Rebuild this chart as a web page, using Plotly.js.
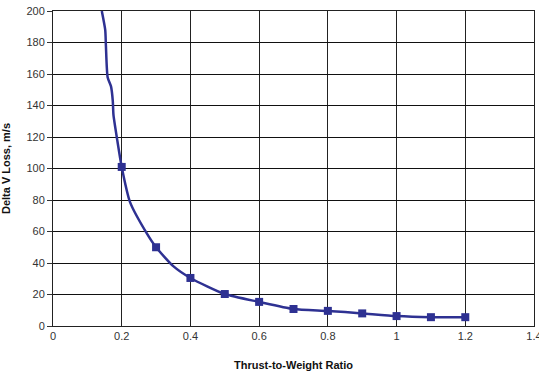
<!DOCTYPE html>
<html><head><meta charset="utf-8">
<script src="https://cdn.plot.ly/plotly-3.0.1.min.js"></script>
<style>html,body{margin:0;padding:0;background:#fff}#c{width:539px;height:375px}</style>
</head><body><div id="c"></div>
<script>
// Curve points (smooth line)
const curveX = [0.142, 0.152, 0.154, 0.159, 0.169, 0.174, 0.176, 0.187, 0.200, 0.2245, 0.273, 0.300, 0.350, 0.400, 0.500, 0.600, 0.700, 0.800, 0.900, 1.000, 1.100, 1.200];
const curveY = [200, 188, 178, 158, 152, 143, 134, 118, 101, 78.5, 58.8, 50, 38, 30.5, 20.3, 15.3, 10.8, 9.6, 8.0, 6.3, 5.6, 5.6];
// Marked data points
const markX = [0.2, 0.3, 0.4, 0.5, 0.6, 0.7, 0.8, 0.9, 1.0, 1.1, 1.2];
const markY = [101, 50, 30.5, 20.3, 15.3, 10.8, 9.6, 8.0, 6.3, 5.6, 5.6];
const xTicks = [0, 0.2, 0.4, 0.6, 0.8, 1, 1.2, 1.4];
const xTickText = ['0', '0.2', '0.4', '0.6', '0.8', '1', '1.2', '1.4'];
const yTicks = [0, 20, 40, 60, 80, 100, 120, 140, 160, 180, 200];

const navy = '#2e3192';
const traces = [
  {x: curveX, y: curveY, mode: 'lines', line: {color: navy, width: 2.5, shape: 'spline', smoothing: 0.6}, hoverinfo: 'skip'},
  {x: markX, y: markY, mode: 'markers', marker: {symbol: 'square', size: 8, color: navy}}
];
const fontFam = '"Liberation Sans Narrow", "Arial Narrow", "Liberation Sans", Arial, sans-serif';
const layout = {
  width: 539, height: 375,
  margin: {l: 53, r: 5, t: 11, b: 49},
  showlegend: false,
  paper_bgcolor: '#fff', plot_bgcolor: '#fff',
  font: {family: fontFam, size: 11, color: '#333'},
  xaxis: {
    range: [0, 1.4], tickvals: xTicks, ticktext: xTickText, ticklabeloverflow: 'allow',
    showgrid: true, gridcolor: '#222', gridwidth: 1,
    zeroline: false, showline: true, linecolor: '#222', linewidth: 1, mirror: true,
    ticks: '', tickfont: {size: 11, color: '#333', family: fontFam},
    title: {text: '<b>Thrust-to-Weight Ratio</b>', font: {size: 11, color: '#111', family: fontFam}, standoff: 20}
  },
  yaxis: {
    range: [0, 200], tickvals: yTicks,
    showgrid: true, gridcolor: '#111', gridwidth: 1,
    zeroline: false, showline: true, linecolor: '#222', linewidth: 1, mirror: true,
    ticks: 'outside', ticklen: 5, tickcolor: '#333',
    tickfont: {size: 11, color: '#333', family: fontFam},
    title: {text: '<b>Delta V Loss, m/s</b>', font: {size: 11, color: '#111', family: fontFam}, standoff: 14}
  }
};
Plotly.newPlot('c', traces, layout, {staticPlot: true, displayModeBar: false});
</script></body></html>
